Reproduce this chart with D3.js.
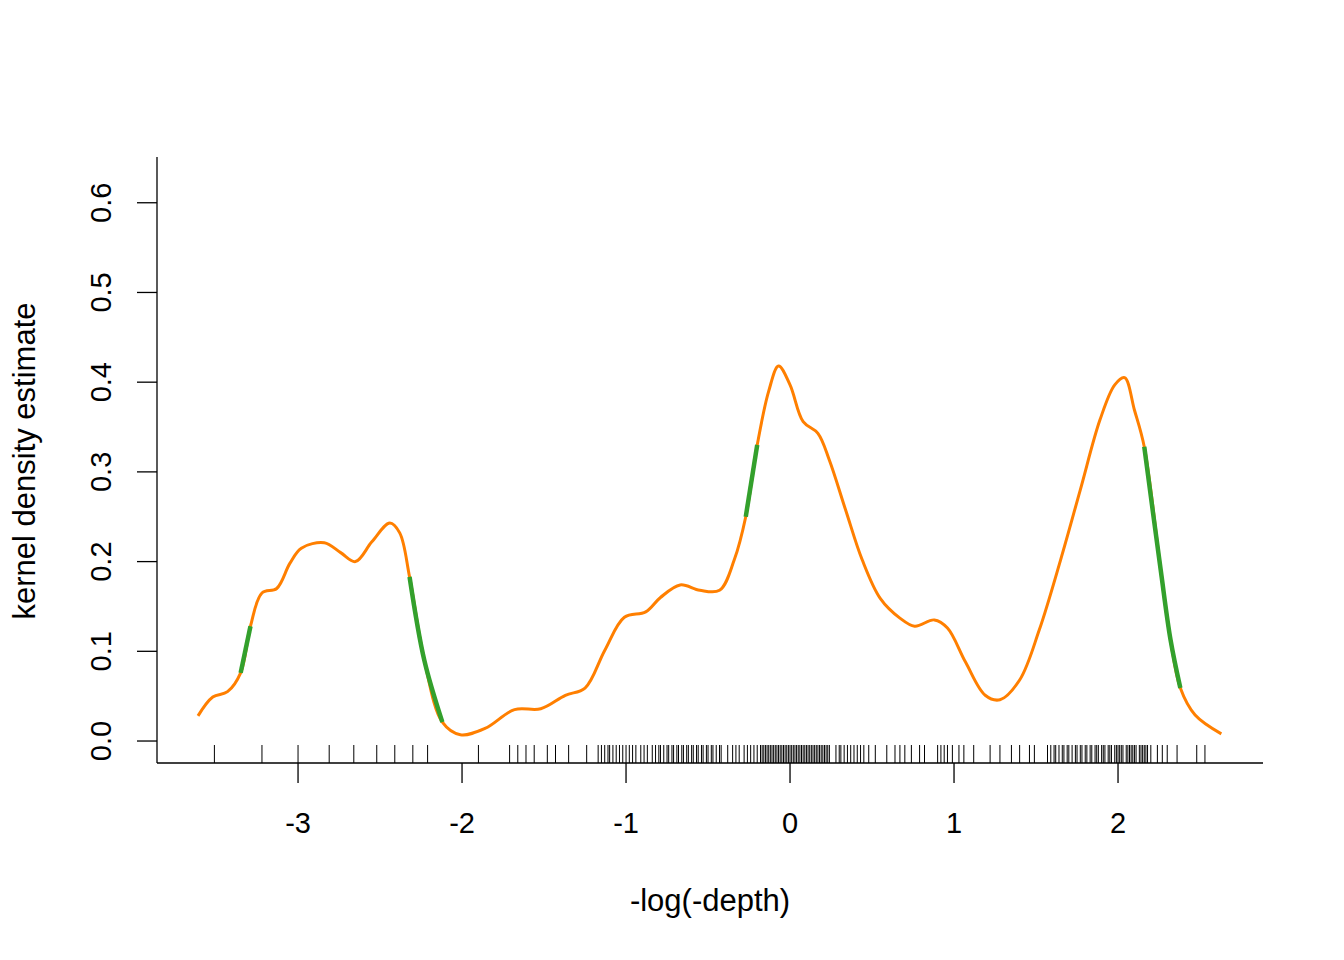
<!DOCTYPE html>
<html><head><meta charset="utf-8">
<script src="https://cdn.jsdelivr.net/npm/d3@7"></script>
<style>body{margin:0;background:#fff}text{font-family:"Liberation Sans",Arial,sans-serif}</style>
</head><body><svg id="c" width="1344" height="960"></svg>
<script>
// density curve
const densX = [-3.61,-3.52,-3.43,-3.35,-3.29,-3.22,-3.13,-3.05,-2.98,-2.84,-2.74,-2.65,-2.55,-2.44,-2.38,-2.32,-2.23,-2.12,-2.01,-1.86,-1.68,-1.52,-1.37,-1.25,-1.13,-1.01,-0.88,-0.79,-0.67,-0.55,-0.43,-0.34,-0.27,-0.2,-0.13,-0.07,0,0.08,0.17,0.24,0.34,0.44,0.55,0.67,0.76,0.88,0.96,1.07,1.19,1.28,1.4,1.52,1.65,1.77,1.89,1.98,2.04,2.1,2.16,2.26,2.32,2.38,2.47,2.63];
const densY = [0.028,0.049,0.055,0.076,0.128,0.165,0.17,0.198,0.215,0.221,0.21,0.2,0.222,0.243,0.232,0.183,0.09,0.021,0.007,0.014,0.035,0.036,0.051,0.059,0.101,0.138,0.144,0.16,0.174,0.168,0.168,0.202,0.25,0.33,0.39,0.418,0.397,0.356,0.343,0.313,0.257,0.202,0.159,0.137,0.128,0.135,0.126,0.088,0.051,0.046,0.068,0.124,0.202,0.28,0.358,0.397,0.405,0.369,0.328,0.191,0.113,0.059,0.029,0.008];
// highlighted (green) ranges
const greenRanges = [[-3.35,-3.29],[-2.32,-2.12],[-0.27,-0.2],[2.16,2.38]];
// observations (rug)
const rug = [-3.51,-3.22,-3.0,-2.81,-2.66,-2.52,-2.41,-2.30,-2.21,-1.90,-1.71,-1.66,-1.61,-1.56,-1.48,-1.43,-1.35,-1.24,
 -1.17,-1.15,-1.13,-1.11,-1.10,-1.08,-1.06,-1.04,-1.02,-1.0,-0.98,-0.96,-0.94,-0.91,-0.89,-0.87,-0.84,-0.82,-0.80,-0.79,-0.77,-0.75,-0.74,-0.72,-0.71,-0.69,-0.68,-0.66,-0.65,-0.63,-0.62,-0.60,-0.59,-0.57,-0.56,-0.54,-0.53,-0.51,-0.50,-0.48,-0.47,-0.45,-0.43,-0.42,
 -0.38,-0.35,-0.33,-0.31,-0.28,-0.26,-0.24,-0.22,-0.2,
 -0.18,-0.17,-0.16,-0.15,-0.14,-0.13,-0.12,-0.11,-0.10,-0.09,-0.08,-0.07,-0.06,-0.05,-0.04,-0.03,-0.02,-0.01,0,0.01,0.02,0.03,0.04,0.05,0.06,0.07,0.08,0.09,0.10,0.11,0.12,0.13,0.14,0.15,0.16,0.17,0.18,0.19,0.20,0.21,0.22,0.23,0.24,
 0.28,0.30,0.31,0.33,0.35,0.37,0.39,0.41,0.43,0.45,0.48,
 0.52,0.59,0.64,0.67,0.70,0.74,0.79,0.82,0.90,0.92,0.94,0.96,0.99,1.03,1.06,1.12,1.22,1.28,1.35,1.40,1.46,1.49,
 1.57,1.59,1.61,1.62,1.64,1.66,1.67,1.69,1.70,1.72,1.74,1.75,1.77,1.78,1.80,1.81,1.83,1.84,1.86,1.87,1.88,1.90,1.91,1.92,1.94,1.95,1.96,1.98,1.99,2.0,2.01,2.02,2.03,2.05,2.06,2.07,2.08,2.09,2.10,2.11,2.13,2.14,2.15,2.16,2.17,2.18,2.20,
 2.24,2.27,2.30,2.36,2.48,2.53];
const xTicks = [-3,-2,-1,0,1,2];
const yTicks = [0,0.1,0.2,0.3,0.4,0.5,0.6];

const svg = d3.select('#c');
const x = d3.scaleLinear().domain([-3.86,2.884]).range([157,1263]);
const y = d3.scaleLinear().domain([-0.0245,0.651]).range([763,157]);
const pts = densX.map((v,i)=>[v,densY[i]]);
const line = d3.line().x(d=>x(d[0])).y(d=>y(d[1])).curve(d3.curveCatmullRom.alpha(0.5));

svg.append('path').attr('d',line(pts)).attr('fill','none').attr('stroke','#FF7F00').attr('stroke-width',3);
greenRanges.forEach(r=>{
  const seg = pts.filter(p=>p[0]>=r[0]-1e-9 && p[0]<=r[1]+1e-9);
  svg.append('path').attr('d',line(seg)).attr('fill','none').attr('stroke','#33A02C').attr('stroke-width',4.5);
});

// rug
svg.append('g').selectAll('line').data(rug).join('line')
  .attr('x1',d=>x(d)).attr('x2',d=>x(d)).attr('y1',745).attr('y2',763)
  .attr('stroke','#000').attr('stroke-width',1);

// axes (L box)
const ax = svg.append('g').attr('stroke','#000').attr('stroke-width',1.3);
ax.append('line').attr('x1',157).attr('x2',1263).attr('y1',763).attr('y2',763);
ax.append('line').attr('x1',157).attr('x2',157).attr('y1',157).attr('y2',763);
xTicks.forEach(t=>{
  ax.append('line').attr('x1',x(t)).attr('x2',x(t)).attr('y1',763).attr('y2',783);
  svg.append('text').attr('x',x(t)).attr('y',833).attr('text-anchor','middle').attr('font-size',29).text(t);
});
yTicks.forEach(t=>{
  ax.append('line').attr('x1',137).attr('x2',157).attr('y1',y(t)).attr('y2',y(t));
  svg.append('text').attr('transform',`translate(111,${y(t)}) rotate(-90)`).attr('text-anchor','middle').attr('font-size',29).text(t.toFixed(1));
});
svg.append('text').attr('x',710).attr('y',911).attr('text-anchor','middle').attr('font-size',31).text('-log(-depth)');
svg.append('text').attr('transform','translate(35,461) rotate(-90)').attr('text-anchor','middle').attr('font-size',31).text('kernel density estimate');
</script></body></html>
